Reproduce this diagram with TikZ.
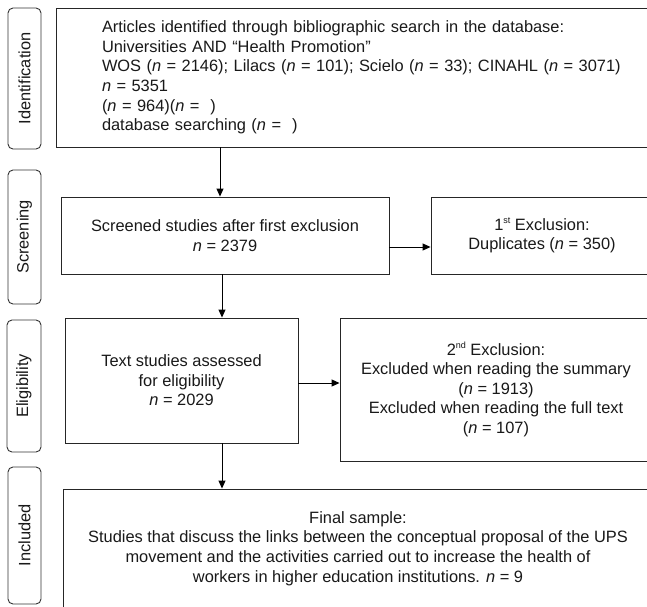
\documentclass[tikz,border=0pt]{standalone}
\usepackage{fontspec}
\setmainfont{Liberation Sans}
\usetikzlibrary{arrows.meta}
\newcommand{\supx}[1]{\raisebox{0.75ex}{\fontsize{9}{9}\selectfont #1}}
\begin{document}
\begin{tikzpicture}[x=1pt,y=-1pt,
  txt/.style={font=\fontsize{16.4}{19.6}\selectfont, text=black!90},
  box/.style={txt, draw=black!85, line width=0.9pt, inner sep=0pt, align=center},
  lab/.style={txt, draw=black!80, line width=0.9pt, rounded corners=5pt, rotate=90, inner sep=0pt},
  arr/.style={draw=black, line width=0.9pt, -{Triangle[length=8pt,width=7pt]}}]
\useasboundingbox (0,0) rectangle (647,606);
\clip (0,0) rectangle (647,606);
\fill[white] (0,0) rectangle (647,606);
% stage labels
\node[lab, minimum width=141pt, minimum height=33pt] (lid) at (24.5,78.5) {Identification};
\node[lab, minimum width=134pt, minimum height=33pt] (lsc) at (24.5,237) {Screening};
\node[lab, minimum width=132pt, minimum height=34pt] (lel) at (24,386) {Eligibility};
\node[lab, minimum width=137pt, minimum height=33pt] (lin) at (24.5,535.5) {Included};
% boxes
\node[box, minimum width=632pt, minimum height=139pt, text width=540pt, align=left] (ident) at (372,77.5)
  {Articles identified through bibliographic search in the database:\\
   Universities AND “Health Promotion”\\
   WOS (\textit{n} = 2146); Lilacs (\textit{n} = 101); Scielo (\textit{n} = 33); CINAHL (\textit{n} = 3071)\\
   \textit{n} = 5351\\
   (\textit{n} = 964)(\textit{n} = \ )\\
   database searching (\textit{n} = \ )};
\node[box, minimum width=328pt, minimum height=77pt] (screen) at (225,235.5)
  {Screened studies after first exclusion\\ \textit{n} = 2379};
\node[box, minimum width=222pt, minimum height=77pt] (excl1) at (542,235.5)
  {1\supx{st} Exclusion:\\ Duplicates (\textit{n} = 350)};
\node[box, minimum width=233pt, minimum height=125pt] (elig) at (181.5,380.5)
  {Text studies assessed\\ for eligibility\\ \textit{n} = 2029};
\node[box, minimum width=312pt, minimum height=143pt] (excl2) at (496,389.5)
  {2\supx{nd} Exclusion:\\ Excluded when reading the summary\\ (\textit{n} = 1913)\\ Excluded when reading the full text\\ (\textit{n} = 107)};
\node[box, minimum width=590pt, minimum height=119pt] (final) at (358,548.5)
  {Final sample:\\
   Studies that discuss the links between the conceptual proposal of the UPS\\
   movement and the activities carried out to increase the health of\\
   workers in higher education institutions. \textit{n} = 9};
% connectors
\coordinate (a1) at (220,0);
\coordinate (a2) at (222,0);
\coordinate (r1) at (0,247);
\coordinate (r2) at (0,383);
\draw[arr] (ident.south -| a1) -- (screen.north -| a1);
\draw[arr] (screen.east |- r1) -- (excl1.west |- r1);
\draw[arr] (screen.south -| a2) -- (elig.north -| a2);
\draw[arr] (elig.east |- r2) -- (excl2.west |- r2);
\draw[arr] (elig.south -| a2) -- (final.north -| a2);
\end{tikzpicture}
\end{document}
